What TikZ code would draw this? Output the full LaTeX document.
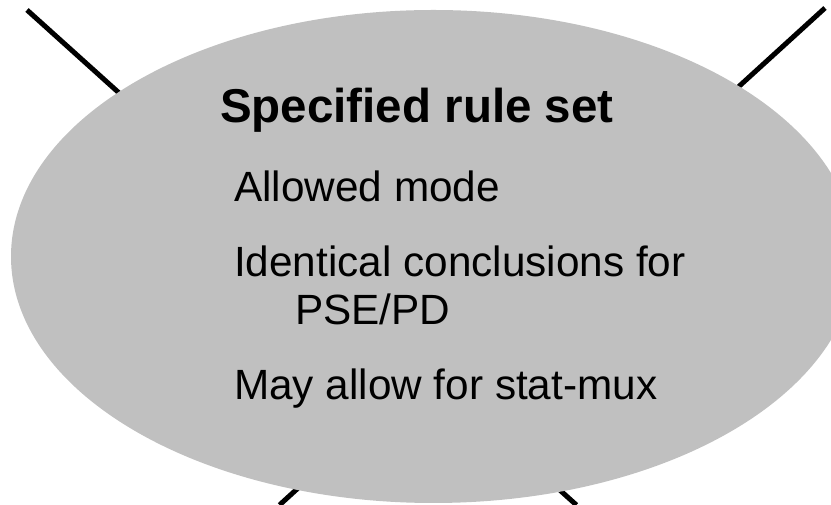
\documentclass[tikz,border=0pt]{standalone}
\usepackage{fontspec}
\setmainfont{Liberation Sans}
\usetikzlibrary{shapes.geometric}
\definecolor{ellgray}{RGB}{192,192,192}
\tikzset{
  crossline/.style={line width=5pt, black, line cap=butt},
  bubble/.style={ellipse, fill=ellgray, draw=none, inner sep=0pt,
                 minimum width=844.8pt, minimum height=493pt},
  titletext/.style={anchor=base west, inner sep=0pt, font=\bfseries\fontsize{47.5pt}{57pt}\selectfont},
  bodytext/.style={anchor=base west, inner sep=0pt, font=\fontsize{42.3pt}{51pt}\selectfont}
}
\begin{document}
\begin{tikzpicture}[x=1pt,y=1pt]
  \useasboundingbox (0,0) rectangle (831,505);
  \clip (0,0) rectangle (831,505);
  % crossing lines behind the ellipse
  \coordinate (tl) at (27,495);
  \coordinate (br) at (576.4,0);
  \coordinate (tr) at (825,497);
  \coordinate (bl) at (279.5,0);
  \draw[crossline] (tl) -- (br);
  \draw[crossline] (tr) -- (bl);
  % ellipse
  \node[bubble] (ell) at (433.4,248.5) {};
  % texts
  \node[titletext] (title) at (220,382.3) {Specified rule set};
  \node[bodytext] (t1) at (234,303.3) {Allowed mode};
  \node[bodytext] (t2) at (234,228.3) {Identical conclusions for};
  \node[bodytext] (t3) at (295,180) {PSE/PD};
  \node[bodytext] (t4) at (234,105) {May allow for stat-mux};
\end{tikzpicture}
\end{document}
